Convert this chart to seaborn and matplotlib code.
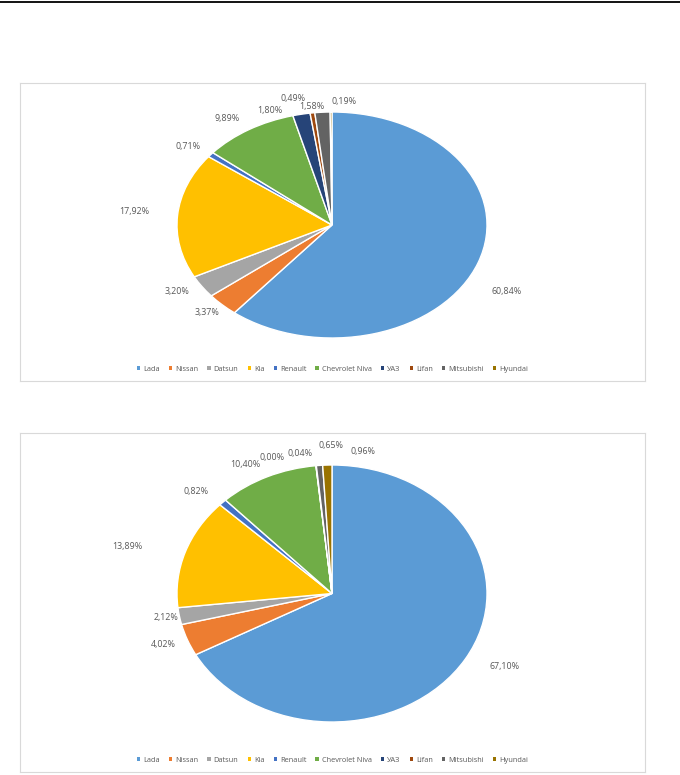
import numpy as np
import matplotlib.pyplot as plt
import matplotlib.lines as mlines
import matplotlib.patches as mpatches
import seaborn as sns

# marcas e participação (%) em cada gráfico
marcas = ["Lada", "Nissan", "Datsun", "Kia", "Renault", "Chevrolet Niva",
          "УАЗ", "Lifan", "Mitsubishi", "Hyundai"]
valores_1 = [60.84, 3.37, 3.20, 17.92, 0.71, 9.89, 1.80, 0.49, 1.58, 0.19]
valores_2 = [67.10, 4.02, 2.12, 13.89, 0.82, 10.40, 0.00, 0.04, 0.65, 0.96]

# cores padrão do Excel
cores = sns.color_palette(["#5B9BD5", "#ED7D31", "#A5A5A5", "#FFC000", "#4472C4",
                           "#70AD47", "#264478", "#9E480E", "#636363", "#997300"])

# ajuste dos rótulos: (deslocamento do ângulo, raio)
ajuste_1 = [(-8, 1.27), (-1, 1.12), (-2.4, 1.16), (-0.3, 1.28), (1.5, 1.16),
            (3.3, 1.16), (10, 1.09), (5.3, 1.15), (3.4, 1.06), (-4.4, 1.10)]
ajuste_2 = [(3.7, 1.25), (-1, 1.16), (-0.2, 1.09), (3.1, 1.37), (3.1, 1.18),
            (4.6, 1.15), (14, 1.13), (4.8, 1.105), (-4.3, 1.15), (-12, 1.12)]

sns.set_theme(style="white")
plt.rcParams['font.family'] = ['Open Sans', 'DejaVu Sans']

W, H = 680, 775
fig = plt.figure(figsize=(W / 100, H / 100), dpi=100)
fig.add_artist(mlines.Line2D([0, 1], [1 - 1.5 / H, 1 - 1.5 / H], color="black", lw=1.3))


def desenha(valores, ajuste, caixa, centro, raios):
    x0, y0, x1, y1 = caixa  # pixels, y a partir do topo
    cx, cy = centro
    rx, ry = raios
    ax = fig.add_axes([x0 / W, 1 - y1 / H, (x1 - x0) / W, (y1 - y0) / H])
    ax.pie(valores, colors=cores, startangle=90, counterclock=False,
           wedgeprops=dict(edgecolor="white", linewidth=1.0))
    ax.set_aspect('auto')
    ax.set_xlim(-(cx - x0) / rx, (x1 - cx) / rx)
    ax.set_ylim(-(y1 - cy) / ry, (cy - y0) / ry)
    ax.set_frame_on(True)
    for s in ax.spines.values():
        s.set_color("#D9D9D9")
        s.set_linewidth(0.8)
    # rótulos de porcentagem
    acum = np.cumsum([0] + valores)
    for i, v in enumerate(valores):
        meio = 90 - (acum[i] + v / 2) * 3.6
        ang = np.deg2rad(meio + ajuste[i][0])
        r = ajuste[i][1]
        ax.text(r * np.cos(ang), r * np.sin(ang), f"{v:.2f}%".replace(".", ","),
                ha="center", va="center", fontsize=6.4, color="#595959")
    # legenda com quadradinhos
    quadros = [mpatches.Patch(facecolor=c, edgecolor="none") for c in cores]
    ax.legend(quadros, marcas, loc="center", bbox_to_anchor=(0.5, 12 / (y1 - y0)),
              ncol=10, frameon=False, fontsize=5.3, handlelength=0.45, handleheight=0.45,
              handletextpad=0.4, columnspacing=1.25, labelcolor="#595959")


desenha(valores_1, ajuste_1, (20, 83, 645, 381), (332, 225), (155, 113))
desenha(valores_2, ajuste_2, (20, 433, 645, 772), (332, 593.5), (155, 128.5))

plt.savefig("out.png", dpi=100)
